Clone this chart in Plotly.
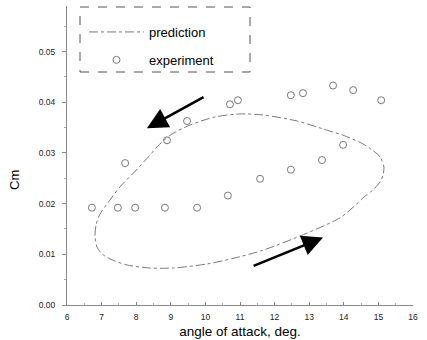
import plotly.graph_objects as go

# Measured pitching-moment coefficient (open circles)
exp_alpha = [6.72, 7.47, 7.97, 8.83, 9.76, 10.65, 11.58, 12.47, 13.37, 13.98,
             15.08, 14.27, 13.69, 12.82, 12.47, 10.94, 10.71, 9.47, 8.89, 7.68]
exp_cm = [0.0192, 0.0192, 0.0192, 0.0192, 0.0192, 0.0216, 0.0249, 0.0267, 0.0286, 0.0316,
          0.0404, 0.0424, 0.0433, 0.0418, 0.0414, 0.0404, 0.0396, 0.0363, 0.0325, 0.0280]

# Predicted hysteresis loop (pitch-up along the lower branch, pitch-down along the upper)
pred_alpha = [15.16, 15.05, 14.82, 14.55, 13.98, 13.60, 12.65, 11.66, 11.00, 10.28,
              9.55, 8.98, 8.63, 8.40, 7.97, 7.53, 7.24, 6.95, 6.84, 6.81,
              6.87, 7.01, 7.24, 7.73, 8.40, 9.06, 10.05, 10.86, 11.66, 12.94,
              13.89, 14.27, 14.55, 14.84, 15.05, 15.13, 15.16]
pred_cm = [0.0272, 0.0292, 0.0306, 0.0318, 0.0335, 0.0343, 0.0363, 0.0375, 0.0377, 0.0371,
           0.0355, 0.0335, 0.0314, 0.0296, 0.0264, 0.0233, 0.0207, 0.0179, 0.0158, 0.0134,
           0.0114, 0.0101, 0.0091, 0.0079, 0.0073, 0.0073, 0.0081, 0.0093, 0.0108, 0.0142,
           0.0172, 0.0193, 0.0211, 0.0227, 0.0243, 0.0256, 0.0272]

# Direction arrows: (tail alpha, tail cm, head alpha, head cm)
arrows = [(9.99, 0.0412, 8.31, 0.0349), (11.35, 0.0076, 13.40, 0.0133)]

x_ticks = list(range(6, 17))
y_ticks = [0.00, 0.01, 0.02, 0.03, 0.04, 0.05]

FONT = "Liberation Sans, Arial, sans-serif"

fig = go.Figure()
fig.add_trace(go.Scatter(
    x=pred_alpha, y=pred_cm, mode="lines", name="prediction",
    line=dict(color="#6a6a6a", width=0.9, dash="dashdot", shape="spline", smoothing=0.8),
    legendgroup="a",
))
fig.add_trace(go.Scatter(
    x=exp_alpha, y=exp_cm, mode="markers", name="experiment",
    marker=dict(symbol="circle-open", size=7, color="#6a6a6a", line=dict(width=0.9)),
    legendgroup="b",
))

for ta, tc, ha, hc in arrows:
    fig.add_annotation(
        x=ha, y=hc, ax=ta, ay=tc, xref="x", yref="y", axref="x", ayref="y",
        showarrow=True, arrowhead=2, arrowsize=1.6, arrowwidth=2.6, arrowcolor="black",
        text="",
    )

# Dashed frame around the legend
fig.add_shape(type="rect", xref="paper", yref="paper",
              x0=(80 - 67) / 346, x1=(250 - 67) / 346,
              y0=(305 - 72) / 299, y1=(305 - 7) / 299,
              line=dict(color="#555", width=1, dash="dash"), layer="above")

# Vertical axis label
fig.add_annotation(text="Cm", xref="paper", yref="paper",
                   x=(14 - 67) / 346, y=(305 - 180) / 299,
                   xanchor="center", yanchor="middle", textangle=-90,
                   showarrow=False, font=dict(size=13, family=FONT, color="black"))

fig.update_layout(
    width=427, height=340,
    margin=dict(l=67, r=14, t=6, b=35),
    paper_bgcolor="white", plot_bgcolor="white",
    font=dict(family=FONT, color="black"),
    showlegend=True,
    legend=dict(
        x=(84 - 67) / 346, y=(305 - 17) / 299, xanchor="left", yanchor="top",
        bgcolor="rgba(0,0,0,0)", borderwidth=0,
        font=dict(size=13, family=FONT), itemwidth=55,
        traceorder="grouped", tracegroupgap=8,
    ),
    xaxis=dict(
        range=[6, 16], tickvals=x_ticks, ticktext=[str(v) for v in x_ticks],
        automargin=False,
        showgrid=False, zeroline=False, showline=True, linecolor="#8a8a8a", linewidth=1,
        ticks="inside", ticklen=3, tickcolor="#8a8a8a",
        minor=dict(dtick=0.5, ticks="inside", ticklen=2, tickcolor="#aaa"),
        tickfont=dict(size=8.5, color="#222"), ticklabelstandoff=4,
        title=dict(text="angle of attack, deg.", font=dict(size=13.5), standoff=5),
    ),
    yaxis=dict(
        range=[0, 0.059], tickvals=y_ticks, ticktext=[f"{v:.2f}" for v in y_ticks],
        automargin=False,
        showgrid=False, zeroline=False, showline=True, linecolor="#8a8a8a", linewidth=1,
        ticks="outside", ticklen=4, tickcolor="#8a8a8a",
        minor=dict(dtick=0.005, ticks="outside", ticklen=2, tickcolor="#aaa"),
        tickfont=dict(size=8.5, color="#222"), ticklabelstandoff=5,
    ),
)

fig.write_html("out.html")
